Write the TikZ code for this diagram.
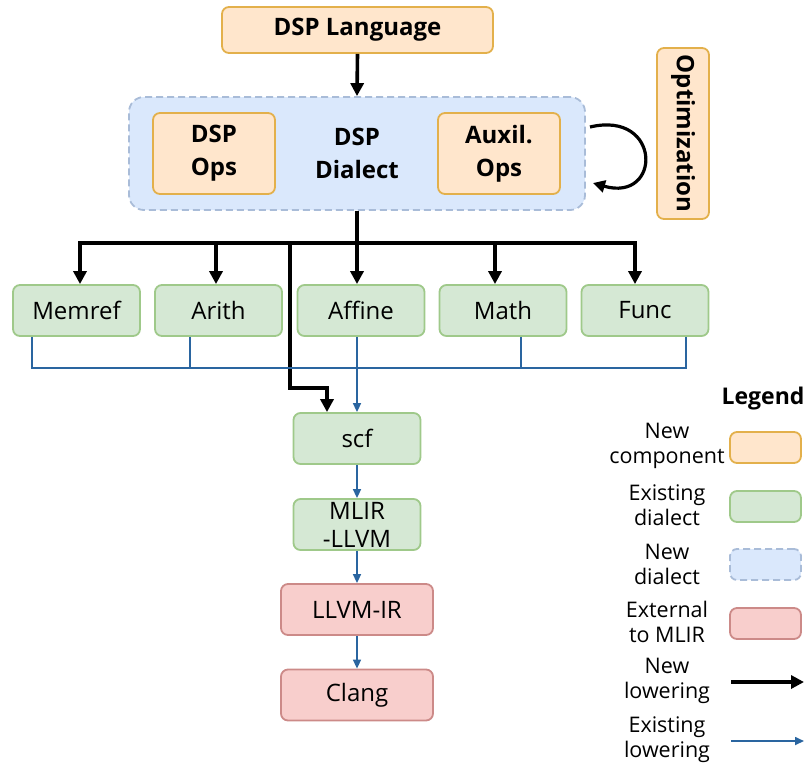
\documentclass[tikz,border=0pt]{standalone}
\usepackage{fontspec}
\setmainfont{Open Sans}
\usetikzlibrary{arrows.meta}
\definecolor{orgfill}{HTML}{FFE6CC}
\definecolor{orgline}{HTML}{E3B04B}
\definecolor{grnfill}{HTML}{D5E8D4}
\definecolor{grnline}{HTML}{9FC98A}
\definecolor{blufill}{HTML}{DAE8FC}
\definecolor{bluline}{HTML}{A9BCD8}
\definecolor{redfill}{HTML}{F8CECC}
\definecolor{redline}{HTML}{CC8A88}
\definecolor{exblue}{HTML}{2A65A0}
\tikzset{
  basebox/.style={line width=1.8pt, rounded corners=7pt, align=center, inner sep=0pt,
    font=\fontsize{24}{33}\selectfont},
  orgbox/.style={basebox, fill=orgfill, draw=orgline},
  grnbox/.style={basebox, fill=grnfill, draw=grnline},
  redbox/.style={basebox, fill=redfill, draw=redline},
  blubox/.style={basebox, fill=blufill, draw=bluline, dashed, dash pattern=on 7pt off 4pt, rounded corners=15pt},
  boldtxt/.style={font=\fontsize{24}{33}\selectfont\bfseries},
  newline/.style={line width=3.6pt, black},
  newarrow/.style={newline, -{Triangle[length=13pt,width=13pt]}},
  exline/.style={line width=1.6pt, exblue},
  exarrow/.style={exline, -{Triangle[length=9pt,width=8pt]}},
  legtext/.style={align=center, font=\fontsize{21.5}{25}\selectfont, inner sep=0pt},
}
\begin{document}
\begin{tikzpicture}[x=1pt,y=-1pt]
\path[use as bounding box] (0,0) rectangle (810,766);
% top
\node[orgbox, boldtxt, minimum width=271pt, minimum height=46pt] (lang) at (357.5,30) {DSP Language};
\node[blubox, minimum width=456pt, minimum height=113pt] (dialect) at (357,153.5) {};
\node[boldtxt, align=center, inner sep=0pt] (dtext) at (357,153.5) {DSP\\Dialect};
\node[orgbox, boldtxt, minimum width=122pt, minimum height=81pt] (dops) at (214,153.5) {DSP\\Ops};
\node[orgbox, boldtxt, minimum width=122pt, minimum height=81pt] (aops) at (499,153.5) {Auxil.\\Ops};
\node[orgbox, minimum width=52pt, minimum height=171pt] (optbox) at (683,133.5) {};
\node[rotate=-90, boldtxt, inner sep=0pt] (opt) at (683,133.5) {Optimization};
\draw[newarrow] (lang.south) -- (dialect.north);
\coordinate (loopa) at (590,127);
\coordinate (loopb) at (593,183);
\draw[line width=3.2pt, -{Triangle[length=12pt,width=12pt]}] (loopa) .. controls (662,110) and (662,203) .. (loopb);
% dialect boxes
\node[grnbox, minimum width=127pt, minimum height=51pt] (memref) at (76.5,310.5) {Memref};
\node[grnbox, minimum width=127pt, minimum height=51pt] (arith) at (218.5,310.5) {Arith};
\node[grnbox, minimum width=127pt, minimum height=51pt] (affine) at (361,310.5) {Affine};
\node[grnbox, minimum width=127pt, minimum height=51pt] (math) at (503,310.5) {Math};
\node[grnbox, minimum width=127pt, minimum height=51pt] (func) at (645,310.5) {Func};
\node[grnbox, minimum width=127pt, minimum height=51pt] (scf) at (357,438.5) {scf};
\node[grnbox, minimum width=127pt, minimum height=51pt, font=\fontsize{24}{28}\selectfont] (mlir) at (357,524.5) {MLIR\\-LLVM};
\node[redbox, minimum width=152pt, minimum height=51pt] (llvm) at (357,609.5) {LLVM-IR};
\node[redbox, minimum width=152pt, minimum height=51pt] (clang) at (357,695) {Clang};
% new lowering tree
\coordinate (j) at (357,243);
\coordinate (jl) at (80,243);
\coordinate (jr) at (635,243);
\draw[newline] (dialect.south) -- (j);
\draw[newline, line cap=rect] (jl) -- (jr);
\draw[newarrow] (jl) -- (memref.north -| jl);
\draw[newarrow] (216,243) -- (arith.north -| 216,0);
\draw[newarrow] (j) -- (affine.north -| j);
\draw[newarrow] (495,243) -- (math.north -| 495,0);
\draw[newarrow] (jr) -- (func.north -| jr);
\coordinate (bk) at (290,388);
\draw[newarrow] (290,243) -- (bk) -- (327,388) -- (scf.north -| 327,0);
% existing lowering
\draw[exline] (memref.south -| 32,0) -- (32,368) -- (686,368) -- (func.south -| 686,0);
\draw[exline] (arith.south -| 190,0) -- (190,368);
\draw[exline] (math.south -| 521,0) -- (521,368);
\draw[exarrow] (affine.south -| scf.north) -- (scf.north);
\draw[exarrow] (scf.south) -- (mlir.north);
\draw[exarrow] (mlir.south) -- (llvm.north);
\draw[exarrow] (llvm.south) -- (clang.north);
% legend
\node[font=\fontsize{23}{26}\selectfont\bfseries, inner sep=0pt] (leg) at (763,399) {Legend};
\node[legtext] (l1) at (667,446) {New\\component};
\node[orgbox, minimum width=71pt, minimum height=31pt] (b1) at (765.5,447.5) {};
\node[legtext] (l2) at (667,505) {Existing\\dialect};
\node[grnbox, minimum width=71pt, minimum height=31pt] (b2) at (765.5,506.5) {};
\node[legtext] (l3) at (667,564) {New\\dialect};
\node[blubox, minimum width=71pt, minimum height=31pt, rounded corners=7pt] (b3) at (765.5,564.5) {};
\node[legtext] (l4) at (667,622) {External\\to MLIR};
\node[redbox, minimum width=71pt, minimum height=31pt] (b4) at (765.5,623.5) {};
\node[legtext] (l5) at (667,681) {New\\lowering};
\coordinate (a5s) at (731,682);
\coordinate (a5e) at (804,682);
\draw[newarrow] (a5s) -- (a5e);
\node[legtext] (l6) at (667,740) {Existing\\lowering};
\coordinate (a6s) at (731,741);
\coordinate (a6e) at (804,741);
\draw[exarrow] (a6s) -- (a6e);
\end{tikzpicture}
\end{document}
